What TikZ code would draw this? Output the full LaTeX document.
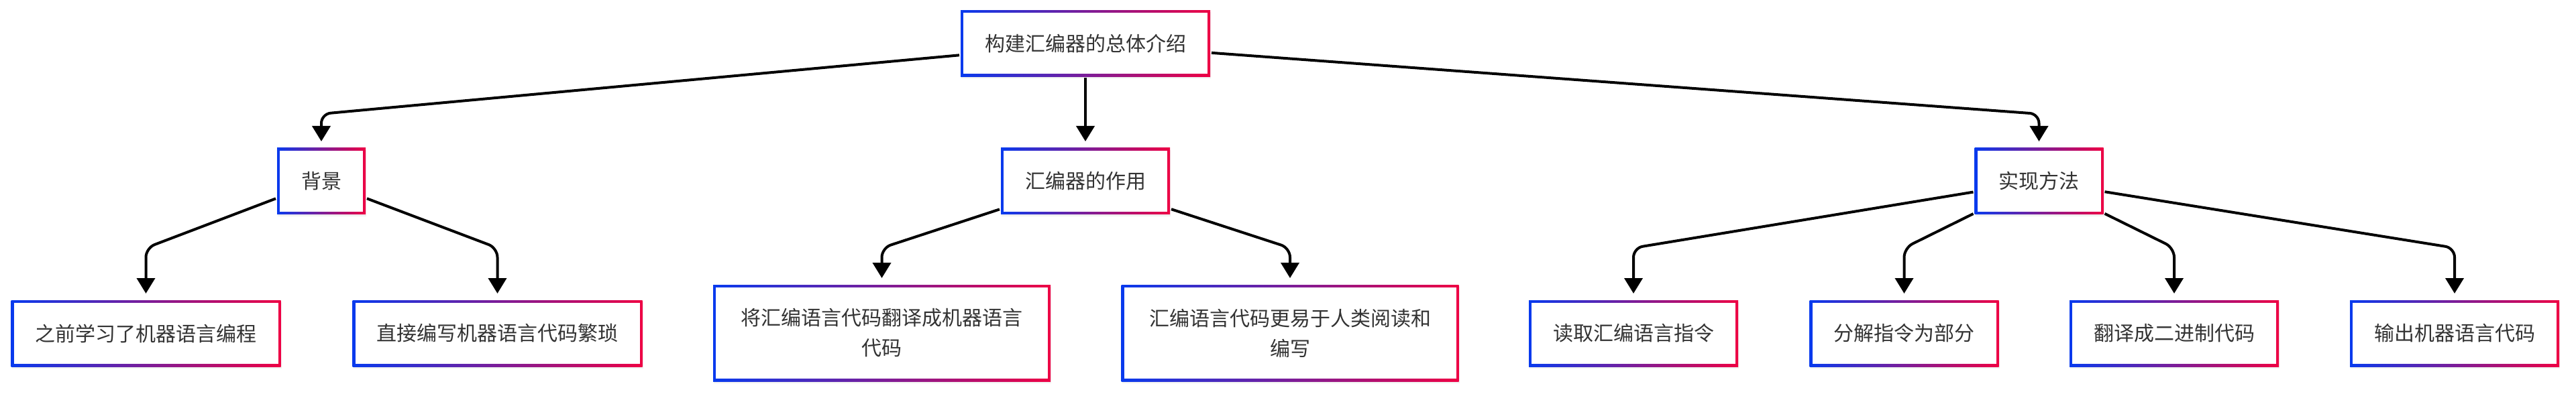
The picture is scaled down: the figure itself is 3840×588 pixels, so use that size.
\documentclass[tikz,border=0pt]{standalone}
\usepackage{fontspec}
\setmainfont{Noto Sans CJK SC}
\usetikzlibrary{arrows.meta,shadows}
\definecolor{gblue}{RGB}{8,58,238}
\definecolor{gred}{RGB}{238,0,68}
\definecolor{txtgray}{RGB}{51,51,51}

\begin{document}
\begin{tikzpicture}[x=0.5pt, y=-0.5pt, line width=2pt,
    edge/.style={-{Triangle[width=13.5pt,length=11.5pt]}, rounded corners=7pt, shorten >=4pt},
    wide/.style={minimum width=251.5pt, minimum height=72pt, align=center}]

    \useasboundingbox (0,0) rectangle (3840,588);
    \coordinate (top) at (0,170);
    \coordinate (mid) at (0,370);

    \tikzstyle{every node}=[rectangle, left color=gblue, right color=gred,
        minimum height=49.5pt, inner xsep=18pt, text=txtgray,
        font=\fontsize{15pt}{22.5pt}\selectfont,
        drop shadow={opacity=0.12, shadow xshift=0.5pt, shadow yshift=-1.5pt},
        path picture={\fill[white] ([shift={(2pt,2pt)}]path picture bounding box.south west)
                      rectangle ([shift={(-2pt,-2pt)}]path picture bounding box.north east);}]

    \node (root) at (1618,65) {构建汇编器的总体介绍};

    \node (bg)   at (479,270.5)    {背景};
    \node (role) at (1618,270.5)   {汇编器的作用};
    \node (impl) at (3039.5,270.5) {实现方法};

    \node (bg1)   at (217.5,497.5)  {之前学习了机器语言编程};
    \node (bg2)   at (741.5,497.5)  {直接编写机器语言代码繁琐};
    \node[wide] (role1) at (1314.5,497) {将汇编语言代码翻译成机器语言\\代码};
    \node[wide] (role2) at (1923,497)   {汇编语言代码更易于人类阅读和\\编写};
    \node (impl1) at (2435,497.5)   {读取汇编语言指令};
    \node (impl2) at (2838.5,497.5) {分解指令为部分};
    \node (impl3) at (3241,497.5)   {翻译成二进制代码};
    \node (impl4) at (3659,497.5)   {输出机器语言代码};

    \draw[edge] (root) -- (bg.north |- top) -- (bg);
    \draw[edge] (root) -- (role);
    \draw[edge] (root) -- (impl.north |- top) -- (impl);
    \foreach \p/\c in {bg/bg1, bg/bg2, role/role1, role/role2,
                       impl/impl1, impl/impl2, impl/impl3, impl/impl4}
        \draw[edge] (\p) -- (\c.north |- mid) -- (\c);
\end{tikzpicture}
\end{document}
